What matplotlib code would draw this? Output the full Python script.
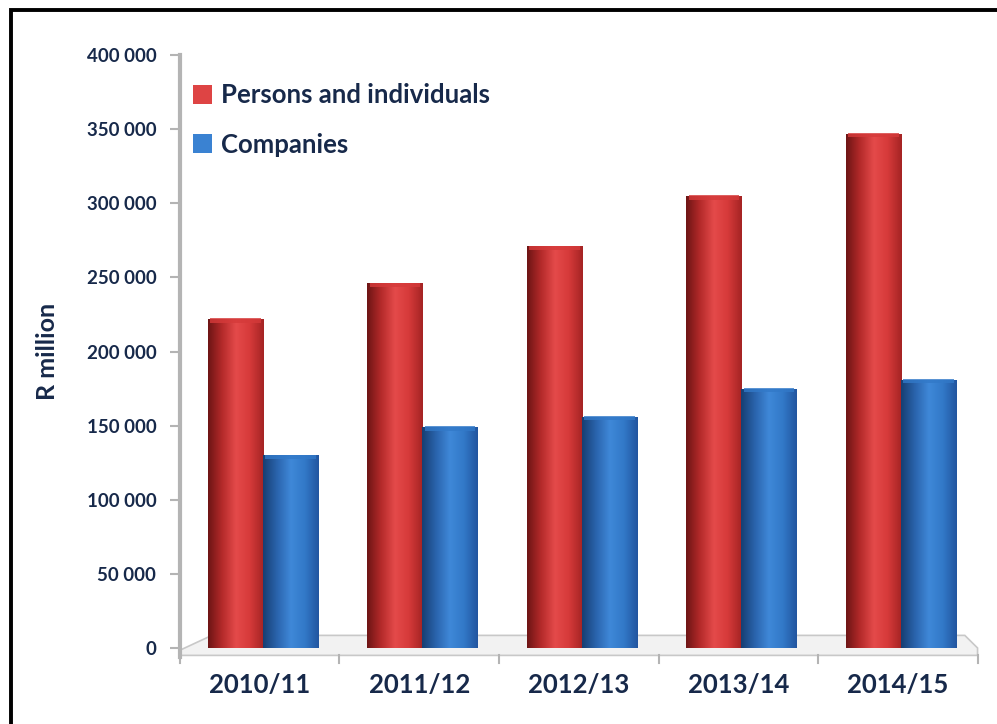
import numpy as np
import matplotlib.pyplot as plt
from matplotlib.colors import LinearSegmentedColormap
from matplotlib.patches import Rectangle, Polygon

# data (R million)
years = ['2010/11', '2011/12', '2012/13', '2013/14', '2014/15']
persons = [222000, 246000, 271000, 305000, 347000]
companies = [130000, 149000, 156000, 175000, 181000]
yticks = [0, 50000, 100000, 150000, 200000, 250000, 300000, 350000, 400000]

navy = '#17294a'
grey = '#b4b4b4'
plt.rcParams['font.family'] = ['Lato', 'DejaVu Sans']
plt.rcParams['font.weight'] = 'bold'
plt.rcParams['axes.labelweight'] = 'bold'

red_cm = LinearSegmentedColormap.from_list('r', ['#6e1515', '#b42a2a', '#e44a4a', '#d63a3a', '#a52424'])
blue_cm = LinearSegmentedColormap.from_list('b', ['#173f73', '#2a64ad', '#3f88d8', '#3279c8', '#2256a0'])

fig = plt.figure(figsize=(9.97, 7.24), dpi=100)
ax = fig.add_axes([0.1805, 0.105, 0.80, 0.819])

x = np.arange(len(years))
w = 0.345
grad = np.linspace(0, 1, 100).reshape(1, -1)

def cylinders(xs, vals, cmap, label):
    bars = ax.bar(xs, vals, width=w, color=cmap(0.6), zorder=3, label=label)
    for b in bars:
        x0, bw, h = b.get_x(), b.get_width(), b.get_height()
        im = ax.imshow(grad, cmap=cmap, extent=[x0, x0 + bw, 0, h],
                       aspect='auto', zorder=3.5, interpolation='bicubic')
        im.set_clip_path(b)
        # rounded top cap
        ax.add_patch(Rectangle((x0 + bw * 0.04, h - 2500), bw * 0.92, 3000,
                               facecolor=cmap(0.75), edgecolor='none', zorder=3.6,
                               alpha=0.8))
    return bars

cylinders(x - w / 2 + 0.02, persons, red_cm, 'Persons and individuals')
cylinders(x + w / 2 + 0.02, companies, blue_cm, 'Companies')

ax.set_xlim(-0.5, 4.5)
ax.set_ylim(0, 400000)

# floor plank
floor = Polygon([(-0.5, -1500), (-0.3, 8500), (4.42, 8500), (4.5, 0),
                 (4.5, -5000), (-0.5, -5000)], closed=True,
                facecolor='#f2f2f2', edgecolor='#c8c8c8', lw=1.2,
                zorder=2, clip_on=False)
ax.add_patch(floor)

for s in ['top', 'right', 'bottom']:
    ax.spines[s].set_visible(False)
ax.spines['left'].set_color(grey)
ax.spines['left'].set_linewidth(3)
ax.spines['left'].set_bounds(-6000, 400000)

ax.set_yticks(yticks)
ax.set_yticklabels(['0' if v == 0 else f'{v // 1000} 000' for v in yticks],
                   fontweight='bold')
ax.tick_params(axis='y', colors=grey, length=7, width=1.5, pad=10,
               labelcolor=navy, labelsize=13.5)

ax.set_xticks(x)
ax.set_xticklabels(years, fontsize=18.5, color=navy, fontweight='bold')
ax.tick_params(axis='x', length=0, pad=18)
for xb in np.arange(-0.5, 5, 1.0):
    ax.plot([xb, xb], [-5000, -10000], color=grey, lw=1.5, clip_on=False, zorder=2)

ax.set_ylabel('R million', fontsize=18, color=navy, fontweight='bold', labelpad=20)

leg = ax.legend(loc='upper left', bbox_to_anchor=(-0.016, 0.996), frameon=False,
                prop={'size': 18.5, 'weight': 'bold'}, handlelength=0.75,
                handleheight=0.75, handletextpad=0.35, labelspacing=1.0,
                borderaxespad=0.6)
for t in leg.get_texts():
    t.set_color(navy)

# outer frame (clipped at right and bottom as in the source)
fig.patches.append(Rectangle((0.011, -0.2), 1.5, 1.186, transform=fig.transFigure,
                             fill=False, edgecolor='black', lw=2.8))

fig.savefig('out.png', dpi=100)
